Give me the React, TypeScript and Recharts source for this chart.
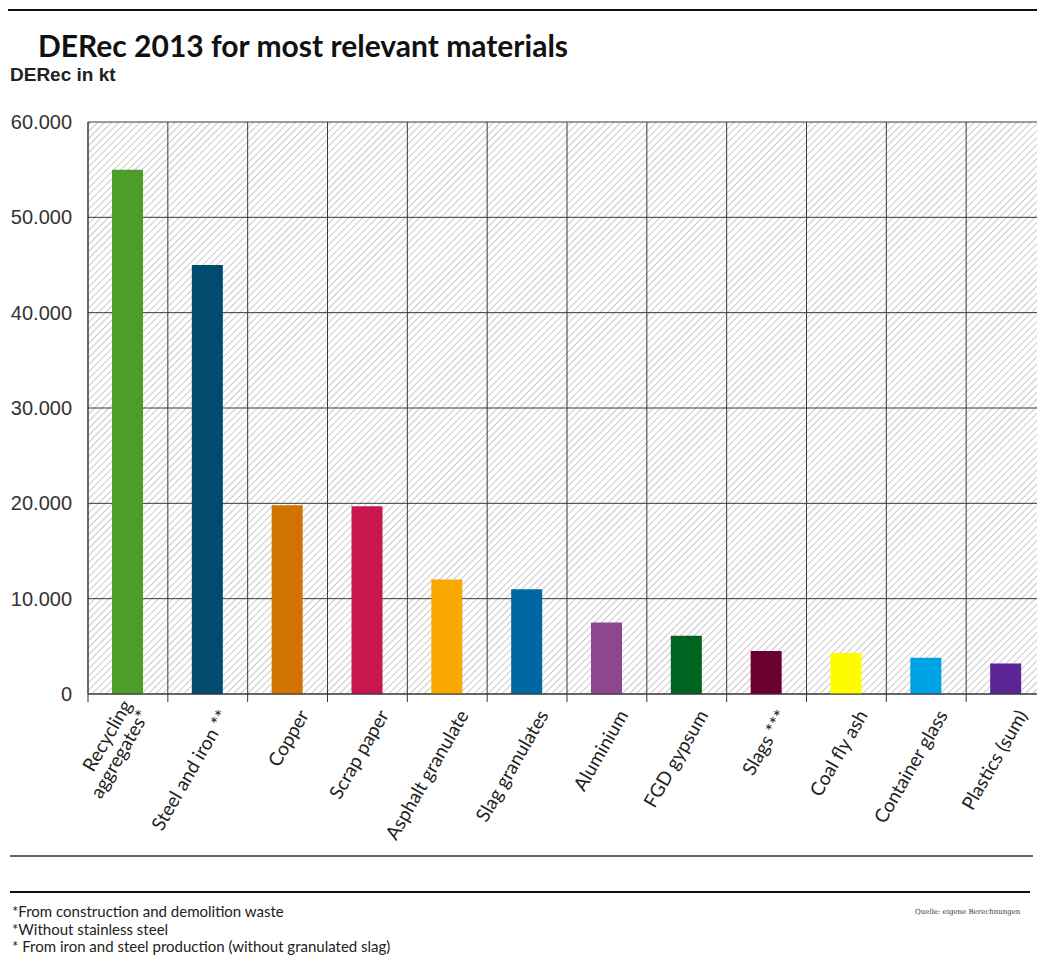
import React from "react";
import { BarChart, Bar, XAxis, YAxis, CartesianGrid, Cell } from "recharts";

const categories = [
  "Recycling aggregates*",
  "Steel and iron **",
  "Copper",
  "Scrap paper",
  "Asphalt granulate",
  "Slag granulates",
  "Aluminium",
  "FGD gypsum",
  "Slags ***",
  "Coal fly ash",
  "Container glass",
  "Plastics (sum)",
];
const labelLines: string[][] = [
  ["Recycling", "aggregates*"],
  ["Steel and iron **"],
  ["Copper"],
  ["Scrap paper"],
  ["Asphalt granulate"],
  ["Slag granulates"],
  ["Aluminium"],
  ["FGD gypsum"],
  ["Slags ***"],
  ["Coal fly ash"],
  ["Container glass"],
  ["Plastics (sum)"],
];
const values = [55000, 45000, 19800, 19700, 12000, 11000, 7500, 6100, 4500, 4300, 3800, 3200];
const barColors = [
  "#4c9e2a",
  "#004b6e",
  "#d07300",
  "#c8174f",
  "#f9a800",
  "#0068a0",
  "#8e468c",
  "#006420",
  "#6b0030",
  "#fffb00",
  "#00a2e6",
  "#5b2595",
];
const yTicks = [0, 10000, 20000, 30000, 40000, 50000, 60000];
const footnotes = [
  "*From construction and demolition waste",
  "*Without stainless steel",
  "* From iron and steel production (without granulated slag)",
];

const data = categories.map((c, i) => ({ name: c, value: values[i], idx: i }));

const fmt = (v: number) => (v === 0 ? "0" : v.toLocaleString("de-DE"));

const CategoryTick = (props: any) => {
  const { x, y, payload } = props;
  const half = payload.offset || 0;
  const lines = labelLines[payload.index] || [String(payload.value)];
  const ax = x + 22;
  const ay = y + 21;
  const lh = 20;
  return (
    <g>
      <line x1={x - half} y1={y} x2={x - half} y2={y + 8} stroke="#333" strokeWidth={1} />
      <text
        transform={`rotate(-60, ${ax}, ${ay})`}
        textAnchor="end"
        fontFamily="Lato, sans-serif"
        fontSize={19}
        fill="#222"
      >
        {lines.map((l, i) => (
          <tspan key={i} x={ax} y={ay - (lines.length - 1 - i) * lh}>
            {l}
          </tspan>
        ))}
      </text>
    </g>
  );
};

export default function App() {
  return (
    <div
      style={{
        position: "absolute",
        left: 0,
        top: 0,
        width: 1037,
        height: 956,
        overflow: "hidden",
        background: "#fff",
      }}
    >
      <div style={{ position: "absolute", left: 0, top: 0 }}>
        <BarChart
          width={1060}
          height={860}
          data={data}
          margin={{ top: 122, right: 14, bottom: 0, left: 0 }}
        >
          <defs>
            <pattern
              id="hatch"
              width="5"
              height="5"
              patternUnits="userSpaceOnUse"
              patternTransform="rotate(45)"
            >
              <rect width="5" height="5" fill="#ffffff" />
              <line x1="0" y1="0" x2="0" y2="5" stroke="#c9c9c9" strokeWidth="2" />
            </pattern>
          </defs>
          <CartesianGrid
            fill="url(#hatch)"
            fillOpacity={1}
            stroke="#3a3a3a"
            strokeWidth={1}
            verticalCoordinatesGenerator={({ offset }: any) =>
              categories.map((_, i) => offset.left + (i * offset.width) / categories.length)
            }
          />
          <XAxis
            dataKey="name"
            type="category"
            height={166}
            interval={0}
            tickLine={false}
            tickSize={0}
            tickMargin={0}
            axisLine={{ stroke: "#333", strokeWidth: 1 }}
            tick={<CategoryTick />}
          />
          <YAxis
            width={88}
            domain={[0, 60000]}
            ticks={yTicks}
            interval={0}
            axisLine={{ stroke: "#3a3a3a" }}
            tickLine={false}
            tickMargin={10}
            tickFormatter={fmt}
            tick={{ fontFamily: "'Liberation Sans', Arial, sans-serif", fontSize: 20, fill: "#333" }}
          />
          <Bar dataKey="value" barSize={31} isAnimationActive={false}>
            {data.map((d, i) => (
              <Cell key={i} fill={barColors[i]} />
            ))}
          </Bar>
        </BarChart>
      </div>
      <svg
        width={1037}
        height={956}
        style={{ position: "absolute", left: 0, top: 0, pointerEvents: "none" }}
      >
        <line x1={8} y1={10} x2={1037} y2={10} stroke="#111" strokeWidth={2} />
        <text x={38} y={57} fontFamily="Lato, sans-serif" fontWeight={700} fontSize={30} fill="#111">
          DERec 2013 for most relevant materials
        </text>
        <text
          x={10}
          y={81}
          fontFamily="'Liberation Sans', Arial, sans-serif"
          fontWeight={700}
          fontSize={19}
          fill="#222"
        >
          DERec in kt
        </text>
        <line x1={10} y1={856} x2={1033} y2={856} stroke="#666" strokeWidth={2} />
        <line x1={10} y1={892} x2={1030} y2={892} stroke="#111" strokeWidth={2} />
        {footnotes.map((f, i) => (
          <text
            key={i}
            x={12}
            y={917 + i * 17.5}
            fontFamily="Lato, sans-serif"
            fontSize={15}
            fill="#222"
          >
            {f}
          </text>
        ))}
        <text x={915} y={914} fontFamily="'DejaVu Serif', serif" fontSize={7} fill="#333">
          Quelle: eigene Berechnungen
        </text>
      </svg>
    </div>
  );
}
